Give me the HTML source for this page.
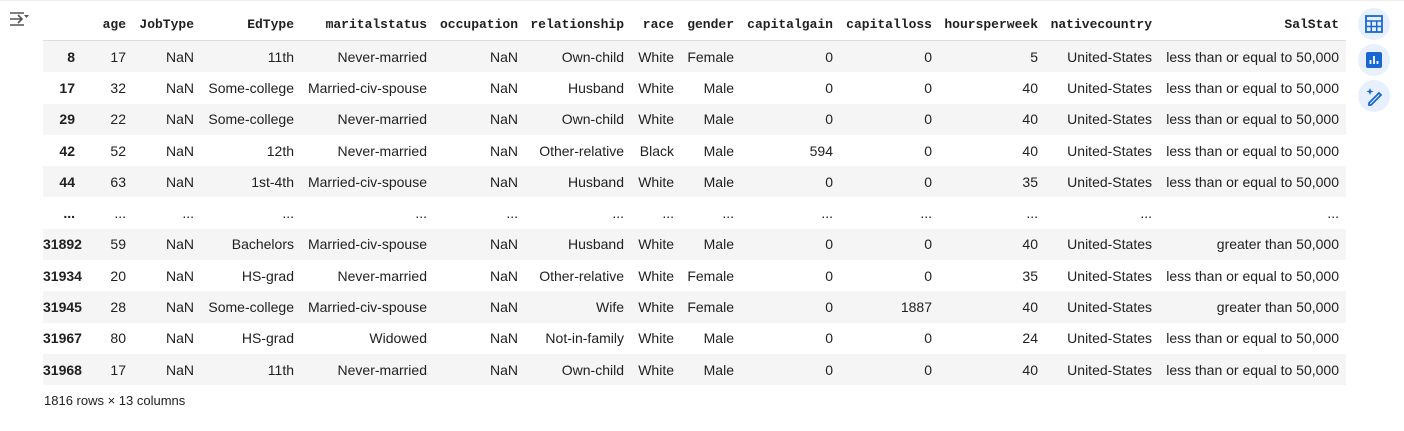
<!DOCTYPE html>
<html><head><meta charset="utf-8"><style>
body{margin:0;width:1404px;height:431px;background:#fff;position:relative;overflow:hidden;font-family:"Liberation Sans",Arial,sans-serif;color:#212121}
.topline{position:absolute;left:0;top:0;width:1404px;height:1px;background:#eee}
table{position:absolute;left:43px;top:9px;border-collapse:collapse;table-layout:fixed;width:1303px}
th{font-family:"Liberation Mono",monospace;font-size:13px;font-weight:bold;text-align:right;padding:0 7px 0 0;height:31px;border-bottom:1px solid #ddd;color:#212121;white-space:nowrap}
td{font-size:14px;text-align:right;padding:0 7px 0 0;height:31.3px;white-space:nowrap}
td.idx{font-weight:bold;padding-right:8px}
tr.g td{background:#f5f5f5}
.foot{position:absolute;left:44px;top:393px;font-size:13px}
.icon{position:absolute;left:1358px;width:32px;height:32px;border-radius:50%;background:#e8f0fe}
.ctl{position:absolute;left:8px;top:10px}
</style></head><body>
<div class="topline"></div>
<svg class="ctl" width="22" height="18"><path d="M2 3h14M2 15h14M2 9h12M10 5l4 4-4 4" stroke="#555" stroke-width="1.6" fill="none"/><path d="M16 5h5l-2.5 3z" fill="#555"/></svg>
<table>
<colgroup><col style="width:40px"><col style="width:50px"><col style="width:68px"><col style="width:100px"><col style="width:133px"><col style="width:91px"><col style="width:106px"><col style="width:50px"><col style="width:60px"><col style="width:99px"><col style="width:99px"><col style="width:106px"><col style="width:114px"><col style="width:187px"></colgroup>
<thead><tr><th></th><th>age</th><th>JobType</th><th>EdType</th><th>maritalstatus</th><th>occupation</th><th>relationship</th><th>race</th><th>gender</th><th>capitalgain</th><th>capitalloss</th><th>hoursperweek</th><th>nativecountry</th><th>SalStat</th></tr></thead>
<tbody>
<tr class="g"><td class="idx">8</td><td>17</td><td>NaN</td><td>11th</td><td>Never-married</td><td>NaN</td><td>Own-child</td><td>White</td><td>Female</td><td>0</td><td>0</td><td>5</td><td>United-States</td><td>less than or equal to 50,000</td></tr>
<tr><td class="idx">17</td><td>32</td><td>NaN</td><td>Some-college</td><td>Married-civ-spouse</td><td>NaN</td><td>Husband</td><td>White</td><td>Male</td><td>0</td><td>0</td><td>40</td><td>United-States</td><td>less than or equal to 50,000</td></tr>
<tr class="g"><td class="idx">29</td><td>22</td><td>NaN</td><td>Some-college</td><td>Never-married</td><td>NaN</td><td>Own-child</td><td>White</td><td>Male</td><td>0</td><td>0</td><td>40</td><td>United-States</td><td>less than or equal to 50,000</td></tr>
<tr><td class="idx">42</td><td>52</td><td>NaN</td><td>12th</td><td>Never-married</td><td>NaN</td><td>Other-relative</td><td>Black</td><td>Male</td><td>594</td><td>0</td><td>40</td><td>United-States</td><td>less than or equal to 50,000</td></tr>
<tr class="g"><td class="idx">44</td><td>63</td><td>NaN</td><td>1st-4th</td><td>Married-civ-spouse</td><td>NaN</td><td>Husband</td><td>White</td><td>Male</td><td>0</td><td>0</td><td>35</td><td>United-States</td><td>less than or equal to 50,000</td></tr>
<tr><td class="idx">...</td><td>...</td><td>...</td><td>...</td><td>...</td><td>...</td><td>...</td><td>...</td><td>...</td><td>...</td><td>...</td><td>...</td><td>...</td><td>...</td></tr>
<tr class="g"><td class="idx">31892</td><td>59</td><td>NaN</td><td>Bachelors</td><td>Married-civ-spouse</td><td>NaN</td><td>Husband</td><td>White</td><td>Male</td><td>0</td><td>0</td><td>40</td><td>United-States</td><td>greater than 50,000</td></tr>
<tr><td class="idx">31934</td><td>20</td><td>NaN</td><td>HS-grad</td><td>Never-married</td><td>NaN</td><td>Other-relative</td><td>White</td><td>Female</td><td>0</td><td>0</td><td>35</td><td>United-States</td><td>less than or equal to 50,000</td></tr>
<tr class="g"><td class="idx">31945</td><td>28</td><td>NaN</td><td>Some-college</td><td>Married-civ-spouse</td><td>NaN</td><td>Wife</td><td>White</td><td>Female</td><td>0</td><td>1887</td><td>40</td><td>United-States</td><td>greater than 50,000</td></tr>
<tr><td class="idx">31967</td><td>80</td><td>NaN</td><td>HS-grad</td><td>Widowed</td><td>NaN</td><td>Not-in-family</td><td>White</td><td>Male</td><td>0</td><td>0</td><td>24</td><td>United-States</td><td>less than or equal to 50,000</td></tr>
<tr class="g"><td class="idx">31968</td><td>17</td><td>NaN</td><td>11th</td><td>Never-married</td><td>NaN</td><td>Own-child</td><td>White</td><td>Male</td><td>0</td><td>0</td><td>40</td><td>United-States</td><td>less than or equal to 50,000</td></tr>
</tbody></table>
<div class="foot">1816 rows × 13 columns</div>
<div class="icon" style="top:8px"><svg width="32" height="32"><rect x="8" y="8" width="16" height="16" fill="none" stroke="#1967d2" stroke-width="1.8"/><path d="M8 13h16M8 18.5h16M13.3 13v11M18.7 13v11" stroke="#1967d2" stroke-width="1.5"/></svg></div>
<div class="icon" style="top:44px"><svg width="32" height="32"><rect x="8" y="8" width="16" height="16" rx="2" fill="#1967d2"/><path d="M12.5 20v-4M16 20v-8M19.5 20v-3" stroke="#fff" stroke-width="1.8"/></svg></div>
<div class="icon" style="top:80px"><svg width="32" height="32"><path d="M11 23l10-10 2 2-10 10h-2z" fill="none" stroke="#1967d2" stroke-width="1.8"/><path d="M12 8l1 2.5 2.5 1-2.5 1-1 2.5-1-2.5-2.5-1 2.5-1z" fill="#1967d2"/></svg></div>
</body></html>
